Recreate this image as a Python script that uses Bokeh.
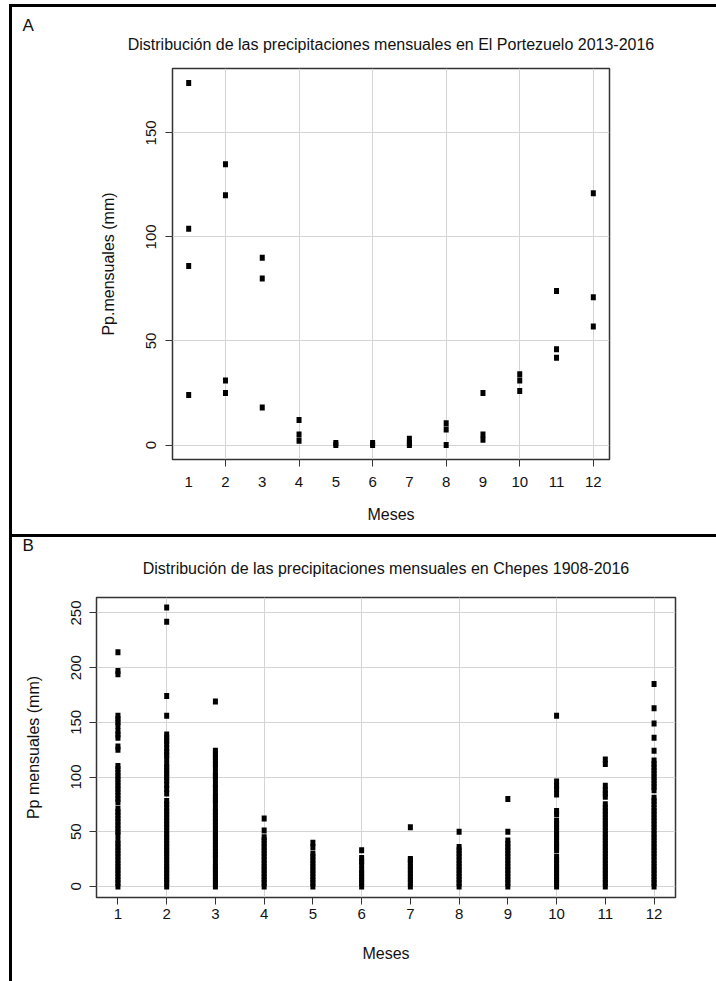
from bokeh.plotting import figure
from bokeh.models import FixedTicker, Title, Range1d, Div, Spacer
from bokeh.layouts import column, row
from bokeh.embed import file_html
from bokeh.resources import INLINE

# ---------------- data ----------------
months = [1, 2, 3, 4, 5, 6, 7, 8, 9, 10, 11, 12]
month_labels = ["1", "2", "3", "4", "5", "6", "7", "8", "9", "10", "11", "12"]
even_months = [2, 4, 6, 8, 10, 12]

title_a = "Distribución de las precipitaciones mensuales en El Portezuelo 2013-2016"
title_b = "Distribución de las precipitaciones mensuales en Chepes 1908-2016"
ylabel_a = "Pp.mensuales (mm)"
ylabel_b = "Pp mensuales (mm)"
xlabel = "Meses"

yticks_a = [0, 50, 100, 150]
yticks_b = [0, 50, 100, 150, 200, 250]

# El Portezuelo 2013-2016 (mm), one list per month
pz_01 = [174, 104, 86, 24]
pz_02 = [135, 120, 31, 25]
pz_03 = [90, 80, 18]
pz_04 = [12, 5, 2]
pz_05 = [1, 0]
pz_06 = [1, 0]
pz_07 = [3, 1, 0]
pz_08 = [10.5, 7.5, 0]
pz_09 = [25, 5, 2.5]
pz_10 = [34, 31, 26]
pz_11 = [74, 46, 42]
pz_12 = [121, 71, 57]

# Chepes 1908-2016 (mm), one list per month
ch_01 = [0, 3, 6, 9, 12, 15, 18, 21, 24, 27, 30, 33, 36, 39, 42, 47, 50, 53, 56, 59, 62, 65, 68, 71,
         77, 80, 83, 86, 89, 92, 95, 98, 101, 104, 107, 110, 125, 128, 136, 139, 142, 147, 150, 153, 156,
         194, 197, 214]
ch_02 = [0, 3, 6, 9, 12, 15, 18, 21, 24, 27, 30, 33, 36, 39, 42, 45, 48, 51, 54, 57, 60, 63, 66, 69, 72,
         75, 78, 85, 89, 93, 97, 100, 103, 106, 109, 112, 117, 120, 123, 126, 130, 133, 136, 139, 156, 174,
         242, 255]
ch_03 = [0, 3, 6, 9, 12, 15, 18, 21, 26, 29, 32, 35, 38, 41, 44, 47, 50, 53, 56, 59, 62, 65, 68, 71, 76,
         79, 82, 85, 90, 93, 98, 101, 104, 109, 112, 115, 118, 121, 124, 169]
ch_04 = [0, 3, 6, 9, 12, 15, 18, 21, 24, 27, 30, 33, 36, 39, 42, 45, 51, 62]
ch_05 = [0, 3, 6, 9, 12, 15, 18, 21, 24, 27, 30, 36, 40]
ch_06 = [0, 3, 6, 9, 12, 15, 20, 23, 26, 33]
ch_07 = [0, 3, 6, 9, 12, 15, 18, 21, 24, 25, 54]
ch_08 = [0, 3, 6, 9, 12, 15, 18, 21, 24, 27, 30, 33, 36, 50]
ch_09 = [0, 3, 6, 9, 12, 15, 18, 21, 24, 27, 30, 33, 36, 39, 42, 50, 80]
ch_10 = [0, 3, 6, 9, 12, 15, 18, 21, 24, 27, 33, 36, 39, 42, 45, 48, 51, 54, 57, 60, 66, 69, 84, 89, 92,
         96, 156]
ch_11 = [0, 3, 6, 9, 12, 15, 18, 21, 24, 27, 30, 33, 36, 39, 42, 45, 48, 51, 54, 57, 60, 63, 66, 69, 72,
         75, 82, 85, 88, 92, 112, 116]
ch_12 = [0, 3, 6, 9, 12, 15, 18, 21, 24, 27, 30, 33, 36, 39, 42, 45, 48, 51, 54, 57, 60, 63, 66, 69, 72,
         75, 78, 81, 88, 91, 94, 97, 100, 103, 106, 109, 112, 115, 124, 136, 149, 163, 185]

portezuelo = [pz_01, pz_02, pz_03, pz_04, pz_05, pz_06, pz_07, pz_08, pz_09, pz_10, pz_11, pz_12]
chepes = [ch_01, ch_02, ch_03, ch_04, ch_05, ch_06, ch_07, ch_08, ch_09, ch_10, ch_11, ch_12]


def flatten(groups):
    xs, ys = [], []
    for m, vals in zip(months, groups):
        xs += [m] * len(vals)
        ys += list(vals)
    return xs, ys


FONT = "Liberation Sans"
GRID = "#d4d4d4"
DARK = "#333333"
TXT = "#111111"
W = 704


def make_panel(height, frame, yr, yticks, minor_x, letter, title, ylab, xs, ys,
               xlab_standoff, ylab_standoff, xtick_standoff, ytick_standoff,
               title_standoff, letter_standoff):
    fl, ft, fr, fb = frame  # canvas coords of the frame
    p = figure(width=W, height=height, output_backend="svg", toolbar_location=None,
               x_range=Range1d(0.56, 12.44), y_range=Range1d(*yr),
               min_border_left=fl, min_border_right=W - fr,
               min_border_top=ft, min_border_bottom=height - fb,
               background_fill_color="white", border_fill_color="white", margin=0)
    p.title.text = ""
    p.outline_line_color = DARK
    p.outline_line_width = 1.5
    p.outline_line_alpha = 1

    # grids
    p.xgrid.ticker = FixedTicker(ticks=even_months)
    p.ygrid.ticker = FixedTicker(ticks=yticks)
    for g in (p.xgrid, p.ygrid):
        g.grid_line_color = GRID
        g.grid_line_width = 1

    # x axis
    xa = p.xaxis[0]
    if minor_x:
        xa.ticker = FixedTicker(ticks=months, minor_ticks=even_months)
        xa.major_tick_line_color = None
        xa.minor_tick_line_color = DARK
        xa.minor_tick_out = 7
        xa.minor_tick_in = 0
    else:
        xa.ticker = FixedTicker(ticks=months)
        xa.major_tick_line_color = DARK
        xa.minor_tick_line_color = None
    xa.major_tick_out = 7
    xa.major_tick_in = 0
    xa.major_label_overrides = {m: l for m, l in zip(months, month_labels)}
    xa.axis_line_color = None
    xa.major_label_text_font = FONT
    xa.major_label_text_font_size = "15px"
    xa.major_label_text_color = TXT
    xa.major_label_standoff = xtick_standoff
    xa.axis_label = xlabel
    xa.axis_label_text_font = FONT
    xa.axis_label_text_font_size = "16px"
    xa.axis_label_text_font_style = "normal"
    xa.axis_label_text_color = TXT
    xa.axis_label_standoff = xlab_standoff

    # y axis
    ya = p.yaxis[0]
    ya.ticker = FixedTicker(ticks=yticks)
    ya.major_tick_line_color = DARK
    ya.minor_tick_line_color = None
    ya.major_tick_out = 7
    ya.major_tick_in = 0
    ya.axis_line_color = None
    ya.major_label_orientation = "vertical"
    ya.major_label_text_font = FONT
    ya.major_label_text_font_size = "15px"
    ya.major_label_text_color = TXT
    ya.major_label_standoff = ytick_standoff
    ya.axis_label = ylab
    ya.axis_label_text_font = FONT
    ya.axis_label_text_font_size = "16px"
    ya.axis_label_text_font_style = "normal"
    ya.axis_label_text_color = TXT
    ya.axis_label_standoff = ylab_standoff

    p.rect(x=xs, y=ys, width=5, height=6, width_units="screen", height_units="screen",
           fill_color="black", line_color=None)

    # titles: first added sits next to the frame
    p.add_layout(Title(text=title, align="center", text_font=FONT, text_font_size="16px",
                       text_font_style="normal", text_color=TXT, standoff=title_standoff), "above")
    p.add_layout(Title(text=letter, align="left", offset=10 - fl, text_font=FONT,
                       text_font_size="17px", text_font_style="normal", text_color=TXT,
                       standoff=letter_standoff), "above")
    return p


def bar(w, h):
    return Div(text="", width=w, height=h, margin=0,
               styles={"background-color": "black", "padding": "0px", "margin": "0px"})


xa_, ya_ = flatten(portezuelo)
pA = make_panel(527, (160, 61, 597, 452), (-6.96, 180.96), yticks_a, True, "A", title_a,
                ylabel_a, xa_, ya_, 16, 27, 10, 9, 32, -35)
xb_, yb_ = flatten(chepes)
pB = make_panel(444, (84, 60, 663, 360), (-10.16, 264.16), yticks_b, False, "B", title_b,
                ylabel_b, xb_, yb_, 23, 27, 4, 8, 41, -34)

rootA = column(Spacer(width=716, height=4, margin=0),
               row(Spacer(width=9, height=533, margin=0), bar(3, 533),
                   column(bar(704, 3), pA, bar(704, 3), spacing=0, margin=0),
                   spacing=0, margin=0),
               spacing=0, margin=0)
rootB = row(Spacer(width=9, height=444, margin=0), bar(3, 444), pB, spacing=0, margin=0)

open("out.html", "w").write(file_html([rootA, rootB], INLINE))
